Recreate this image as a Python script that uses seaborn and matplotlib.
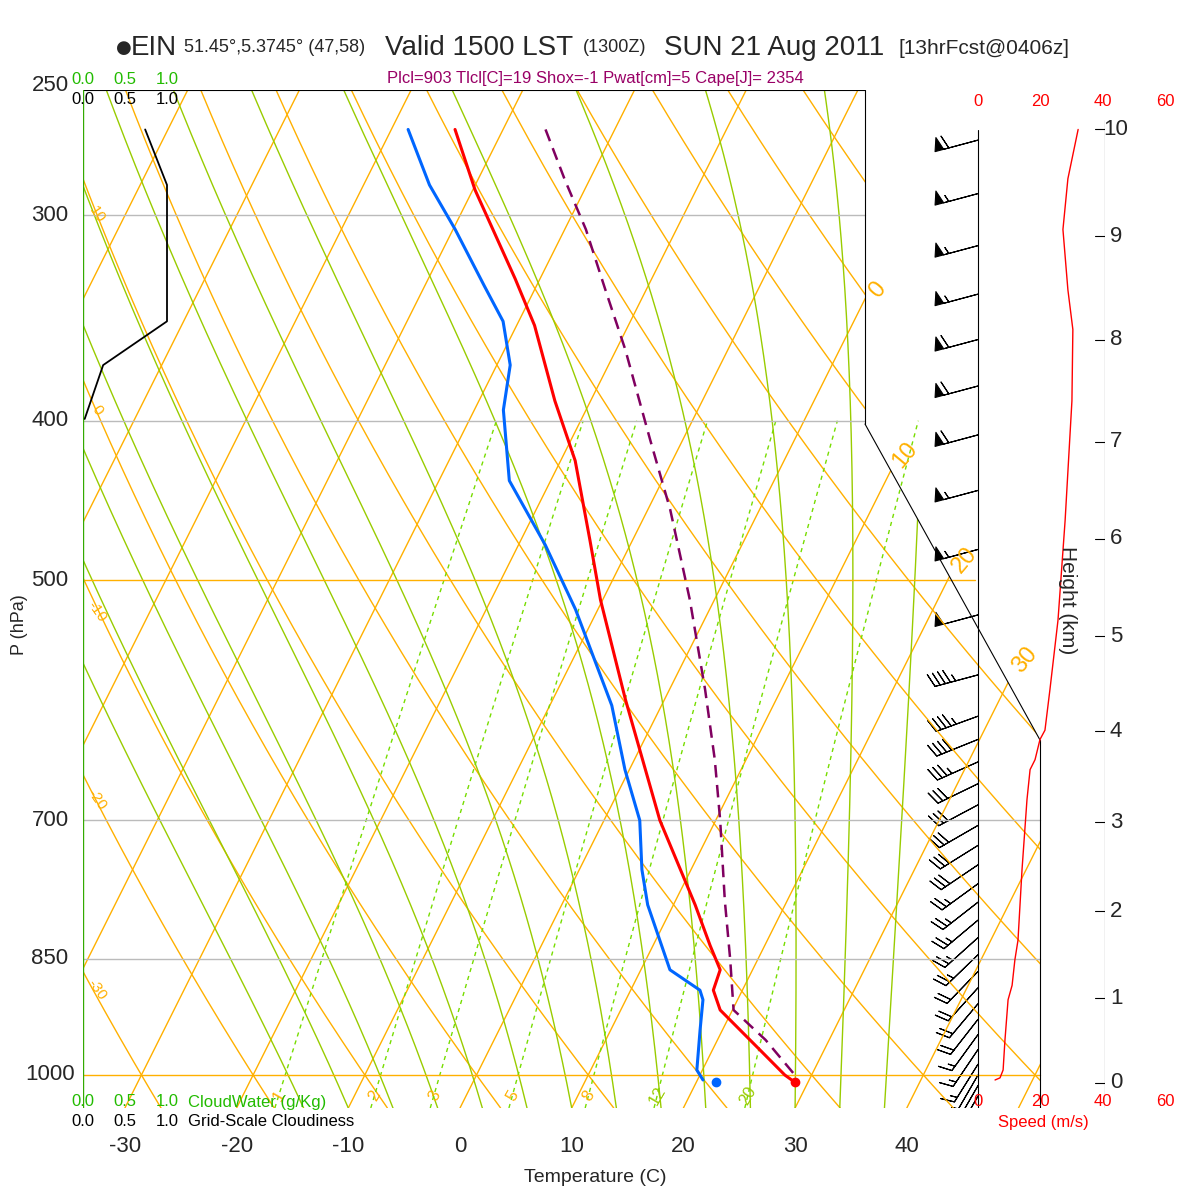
import numpy as np
import pandas as pd
import seaborn as sns
import matplotlib.pyplot as plt
from matplotlib.patches import Polygon

sns.set_style('white')
plt.rcParams['font.family'] = ['Liberation Sans', 'DejaVu Sans']

# ---- data ----
t_pres = [266, 289.5, 328, 350, 389, 423, 473, 514, 591, 700, 788, 834, 863, 888, 913, 966, 1000, 1010]
t_temp = [-44.3, -39.8, -32.2, -28.4, -23.2, -18.7, -13.8, -10.2, -3.5, 5.0, 11.95, 15.1, 17.1, 17.4, 18.9, 24.3, 27.6, 28.8]
td_pres = [266, 287.5, 306, 331, 348, 370, 394, 435, 476, 521, 596, 652, 700, 750, 788, 863, 888, 900, 939, 993, 1007]
td_temp = [-48.5, -44.1, -39.8, -34.7, -31.4, -28.8, -27.4, -23.7, -17.6, -12.0, -4.45, -0.4, 3.2, 5.6, 7.7, 12.6, 16.2, 16.9, 18.0, 19.5, 20.5]
parcel_pres = [266, 285.5, 306, 333, 362, 411, 453, 514, 583, 643, 700, 783, 851, 913, 952, 1000]
parcel_temp = [-36.2, -32.2, -28.1, -23.65, -19.2, -12.9, -8.0, -2.2, 3.2, 7.2, 10.4, 14.4, 17.55, 20.1, 24.3, 28.5]
sfc_p, sfc_t, sfc_td = 1010, 28.8, 21.8

spd_pres = [1007, 1004, 993, 952, 900, 882, 851, 828, 750, 680, 652, 643, 625, 617, 583, 529, 460, 389, 352, 333, 306, 285, 266]
spd_ms = [5.5, 7.1, 8.1, 8.7, 9.7, 11.0, 11.9, 12.9, 14.2, 15.8, 16.8, 18.4, 20.0, 21.6, 23.2, 25.8, 28.1, 30.3, 30.6, 29.0, 27.4, 29.0, 32.3]

barb_pres = [270, 291, 313, 335, 357, 381, 408, 441, 479, 525, 571, 605, 625, 645, 665, 685, 705, 725, 745, 765,
             785, 805, 825, 845, 865, 885, 905, 925, 945, 965, 985, 1000, 1015, 1030]
barb_dir = [255, 255, 255, 255, 255, 255, 255, 255, 255, 255, 255, 250, 248, 246, 244, 242, 240, 238, 236, 234,
            232, 230, 228, 226, 224, 222, 220, 218, 216, 214, 212, 210, 210, 210]

cloud_pres = [266, 287.5, 348, 370, 399]
cloud_frac = [0.74, 1.0, 1.0, 0.24, 0.02]

height_km = [0, 1, 2, 3, 4, 5, 6, 7, 8, 9, 10]
height_pres = [1011, 898, 795, 702, 618, 541, 472, 412, 357, 309, 266]

p_levels = [250, 300, 400, 500, 700, 850, 1000]
t_ticks = [-30, -20, -10, 0, 10, 20, 30, 40]
mix_ratios = [1, 2, 3, 5, 8, 12, 20]

# ---- geometry ----
P_BOT = 1047.3
P_TOP = 251.7
SKEW = 32.0
ORANGE = '#FFB000'
GREEN = '#99CC00'
LGREEN = '#77DD00'


def skx(t, p):
    return np.asarray(t) + SKEW * np.log(P_BOT / np.asarray(p))


def xpix(px):
    return (px - 460) / 11.17


def ppix(py):
    return 1000 * np.exp((py - 1075) / 714)


fig = plt.figure(figsize=(12, 12), dpi=100)
rect = [83 / 1200, 92 / 1200, 1022 / 1200, 1018 / 1200]
ax = fig.add_axes(rect)
ax.set_yscale('log')
ax.set_xlim(xpix(83), xpix(1105))
ax.set_ylim(P_BOT, P_TOP)
ax.axis('off')

clip = Polygon([(xpix(a), ppix(b)) for a, b in
                [(83, 90), (865, 90), (865, 424), (1040, 740), (1040, 1108), (83, 1108)]],
               closed=True, transform=ax.transData, fill=False, lw=0)
ax.add_patch(clip)

pp = np.logspace(np.log10(P_TOP), np.log10(P_BOT), 200)

# isotherms
for t in range(-110, 60, 10):
    l, = ax.plot(skx(t, pp), pp, color=ORANGE, lw=1)
    l.set_clip_path(clip)
# dry adiabats
for th in range(-30, 220, 10):
    tt = (th + 273.15) * (pp / 1000) ** 0.286 - 273.15
    l, = ax.plot(skx(tt, pp), pp, color=ORANGE, lw=1)
    l.set_clip_path(clip)


# moist adiabats
def esat(t):
    return 6.112 * np.exp(17.67 * t / (t + 243.5))


def moist(t0):
    ps = np.linspace(P_BOT, P_TOP, 400)
    ts = [t0]
    for i in range(1, len(ps)):
        T = ts[-1] + 273.15
        p = ps[i - 1]
        rs = 0.622 * esat(ts[-1]) / (p - esat(ts[-1]))
        dtdp = (287 * T + 2.5e6 * rs) / (1004 + 2.5e6 ** 2 * rs * 0.622 / (287 * T ** 2)) / p
        ts.append(ts[-1] + dtdp * (ps[i] - p))
    return ps, np.array(ts)


for t0 in range(-14, 40, 4):
    ps, ts = moist(t0)
    l, = ax.plot(skx(ts, ps), ps, color=GREEN, lw=1)
    l.set_clip_path(clip)

# mixing ratio lines
pm = np.linspace(P_BOT, 400, 50)
for w in mix_ratios:
    e = w / 1000 * pm / (0.622 + w / 1000)
    lg = np.log(e / 6.112)
    td = 243.5 * lg / (17.67 - lg)
    ax.plot(skx(td, pm), pm, color=LGREEN, lw=1, ls=(0, (3, 3)))
    ax.text(skx(td[1], 1030), 1030, str(w), color=ORANGE if w < 12 else GREEN, fontsize=12, rotation=60,
            ha='center', va='center')

# horizontal pressure lines
for p in p_levels:
    c = ORANGE if p in (500, 1000) else '#BBBBBB'
    right = 865 if p <= 400 else 1040
    if p == 500:
        right = 975
    ax.plot([xpix(83), xpix(right)], [p, p], color=c, lw=1)

# frame
fx = [83, 83, 865, 865]
fy = [1108, 90, 90, 424]
ax.plot([xpix(a) for a in fx[1:]], [ppix(b) for b in fy[1:]], color='black', lw=0.8)
ax.plot([xpix(865), xpix(1040)], [ppix(424), ppix(740)], color='black', lw=0.8)
ax.plot([xpix(83), xpix(83)], [ppix(90), ppix(1108)], color='#33AA00', lw=1)
ax.plot([xpix(978), xpix(978)], [ppix(130), ppix(1108)], color='black', lw=0.8)
ax.plot([xpix(1040), xpix(1040)], [ppix(740), ppix(1108)], color='black', lw=0.8)
ax.plot([xpix(1105), xpix(1105)], [ppix(120), ppix(1108)], color='black', lw=0.8)

# isotherm / theta labels
for t, (px, py) in zip([0, 10, 20, 30], [(878, 290), (905, 455), (965, 560), (1025, 660)]):
    ax.text(xpix(px), ppix(py), str(t), color=ORANGE, fontsize=17, rotation=50, ha='center', va='center')
for th, py in zip([10, 0, -10, -20, -30], [215, 410, 612, 800, 990]):
    ax.text(xpix(97), ppix(py), str(th), color=ORANGE, fontsize=11, rotation=-55, ha='center', va='center')

# profiles
sns.lineplot(x=skx(t_temp, t_pres), y=t_pres, sort=False, estimator=None, color='#FF0000', lw=2.2, ax=ax)
sns.lineplot(x=skx(td_temp, td_pres), y=td_pres, sort=False, estimator=None, color='#0066FF', lw=2.2, ax=ax)
sns.lineplot(x=skx(parcel_temp, parcel_pres), y=parcel_pres, sort=False, estimator=None,
             color='#800060', lw=1.8, ls=(0, (5, 3)), ax=ax)
ax.plot(skx(sfc_t, sfc_p), sfc_p, 'o', color='#FF0000', ms=6)
ax.plot(skx(sfc_td, sfc_p), sfc_p, 'o', color='#0066FF', ms=6)

# wind barbs
spd_kt = np.interp(barb_pres, spd_pres[::-1], spd_ms[::-1]) * 1.94
d = np.radians(barb_dir)
u = -spd_kt * np.sin(d)
v = -spd_kt * np.cos(d)
ax.barbs(np.full(len(barb_pres), xpix(978)), barb_pres, u, v, length=8, lw=0.8, color='black',
         sizes=dict(height=0.3, width=0.2, spacing=0.12))

# speed profile panel
ax2 = fig.add_axes(rect, sharey=ax)
ax2.set_xlim(-(978 - 83) / 3.1, (1105 - 978) / 3.1)
ax2.axis('off')
ax2.plot(spd_ms, spd_pres, color='red', lw=1)

# cloudiness panel
ax3 = fig.add_axes(rect, sharey=ax)
ax3.set_xlim(0, (1105 - 83) / 84)
ax3.axis('off')
ax3.plot(cloud_frac, cloud_pres, color='black', lw=1.3)
ax.set_ylim(P_BOT, P_TOP)


def ftext(px, py, s, **kw):
    fig.text(px / 1200, 1 - py / 1200, s, **kw)


# pressure labels
for p in p_levels:
    py = 1075 - 714 * np.log(1000 / p)
    ftext(50, py, str(p), fontsize=16, ha='center', va='center')
ftext(20, 625, 'P (hPa)', fontsize=13, rotation=90, ha='center', va='center')
for t in t_ticks:
    ftext(460 + t * 11.17, 1147, str(t), fontsize=16, ha='center', va='center')
ftext(595, 1177, 'Temperature (C)', fontsize=14, ha='center', va='center')

# height axis
for h, p in zip(height_km, height_pres):
    py = 1075 - 714 * np.log(1000 / p)
    ax.plot([xpix(1095), xpix(1105)], [p, p], color='black', lw=0.8)
    ftext(1116, py, str(h), fontsize=16, ha='center', va='center')
ftext(1068, 600, 'Height (km)', fontsize=15, rotation=-90, ha='center', va='center')

# speed axis labels
for s, px in zip([0, 20, 40, 60], [978, 1040, 1103, 1165]):
    ftext(px, 102, str(s), fontsize=12, color='red', ha='center', va='center')
    ftext(px, 1102, str(s), fontsize=12, color='red', ha='center', va='center')
ftext(1043, 1122, 'Speed (m/s)', fontsize=12, color='red', ha='center', va='center')

# cloud axis labels
for s, px in zip(['0.0', '0.5', '1.0'], [83, 125, 167]):
    ftext(px, 80, s, fontsize=12, color='#22BB00', ha='center', va='center')
    ftext(px, 100, s, fontsize=12, color='black', ha='center', va='center')
    ftext(px, 1102, s, fontsize=12, color='#22BB00', ha='center', va='center')
    ftext(px, 1121, s, fontsize=12, color='black', ha='center', va='center')
ftext(188, 1102, 'CloudWater (g/Kg)', fontsize=12, color='#22BB00', ha='left', va='center')
ftext(188, 1121, 'Grid-Scale Cloudiness', fontsize=12, color='black', ha='left', va='center')

# title
ftext(116, 48, '●', fontsize=13, ha='left', va='center', family=['DejaVu Sans'])
ftext(131, 48, 'EIN', fontsize=20, ha='left', va='center')
ftext(184, 48, '51.45°,5.3745° (47,58)', fontsize=13, ha='left', va='center')
ftext(385, 48, 'Valid 1500 LST', fontsize=20, ha='left', va='center')
ftext(583, 48, '(1300Z)', fontsize=13, ha='left', va='center')
ftext(664, 48, 'SUN 21 Aug 2011', fontsize=20, ha='left', va='center')
ftext(898, 48, '[13hrFcst@0406z]', fontsize=15, ha='left', va='center')
ftext(595, 78, 'Plcl=903 Tlcl[C]=19 Shox=-1 Pwat[cm]=5 Cape[J]= 2354', fontsize=12,
      color='#990066', ha='center', va='center')

fig.savefig('out.png', dpi=100)
